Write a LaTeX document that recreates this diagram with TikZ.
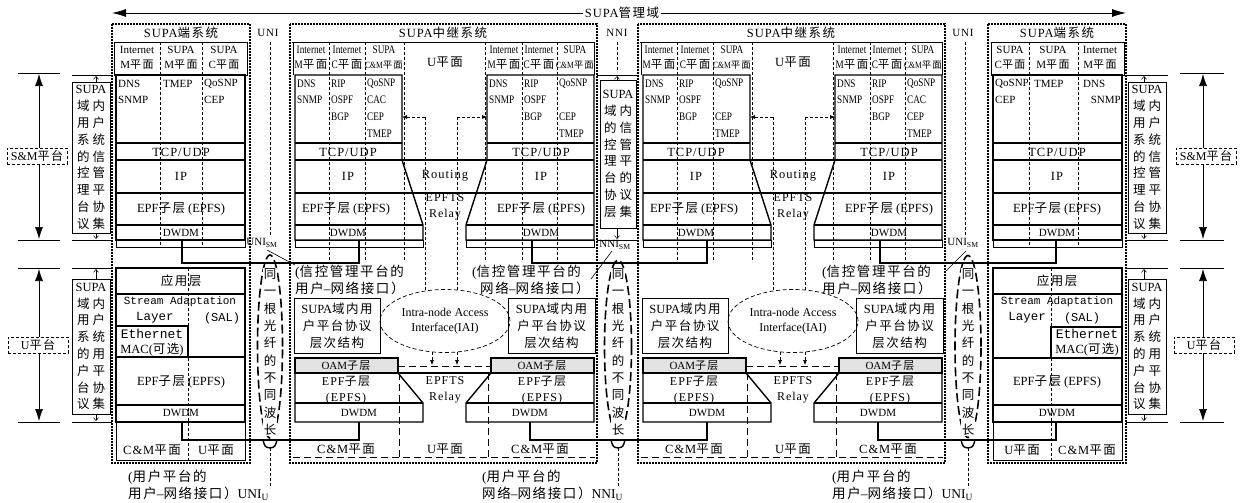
\documentclass[tikz,border=0pt]{standalone}
\usepackage{fontspec}
\setmainfont{Liberation Serif}
\setmonofont{Liberation Mono}
\newfontfamily\cjkfont[LetterSpace=12]{Noto Sans CJK SC}
\newfontfamily\condfont[FakeStretch=0.8]{Liberation Serif}
\usetikzlibrary{arrows.meta,shapes.geometric}
\newcount\cjkcnt
\newXeTeXintercharclass\CJKcls
\cjkcnt="4E00
\loop\ifnum\cjkcnt<"A000 \XeTeXcharclass\cjkcnt=\CJKcls\relax \advance\cjkcnt by 1 \repeat
\cjkcnt="3000
\loop\ifnum\cjkcnt<"3040 \XeTeXcharclass\cjkcnt=\CJKcls\relax \advance\cjkcnt by 1 \repeat
\cjkcnt="FF00
\loop\ifnum\cjkcnt<"FFF0 \XeTeXcharclass\cjkcnt=\CJKcls\relax \advance\cjkcnt by 1 \repeat
\XeTeXinterchartoks 0 \CJKcls = {\cjkfont}
\XeTeXinterchartoks 4095 \CJKcls = {\cjkfont}
\XeTeXinterchartoks \CJKcls 0 = {\rmfamily}
\XeTeXinterchartoks \CJKcls 4095 = {\rmfamily}
\XeTeXinterchartokenstate=1
\newcommand\fsz[2]{\fontsize{#1}{#2}\selectfont}
\newcommand\lsp{\addfontfeature{LetterSpace=8}}
\tikzset{
  thk/.style={line width=1.4pt},
  thn/.style={line width=0.6pt},
  dotb/.style={line width=2.2pt, dash pattern=on 1.6pt off 1.4pt},
  cold/.style={line width=0.6pt, dash pattern=on 3pt off 2pt},
  ldash/.style={line width=0.9pt, dash pattern=on 7pt off 4pt},
  conn/.style={line width=1.6pt},
  fib/.style={line width=1.6pt, dash pattern=on 9pt off 4pt},
  tiparr/.style={-{Latex[length=5pt,width=4pt]}},
  ttl/.style={inner sep=1pt, font=\fsz{12.5}{14}\lsp},
  hdr/.style={inner sep=0pt, align=center, font=\fsz{11}{15}},
  hdrs/.style={inner sep=0pt, align=center, font=\fsz{11.5}{15}\condfont},
  st/.style={inner sep=0pt, font=\fsz{11}{12}},
  sts/.style={inner sep=0pt, font=\fsz{11.5}{12}\condfont},
  lay/.style={inner sep=0pt, font=\fsz{12.5}{15}},
  layl/.style={inner sep=0pt, font=\fsz{12.5}{15}\lsp},
  two/.style={inner sep=0pt, align=center, font=\fsz{12}{16}\lsp},
  strm/.style={inner sep=0pt, font=\fsz{11}{13}\ttfamily},
  ann/.style={draw, line width=0.6pt, inner sep=0pt, align=center, font=\fsz{12.5}{16.8}},
  boxt/.style={draw, line width=0.6pt, inner sep=0pt, align=center, font=\fsz{12.5}{17}},
  lbl/.style={inner sep=0pt, align=left, font=\fsz{13.5}{17}},
  vtx/.style={inner sep=0pt, align=center, font=\fsz{12.5}{17.3}},
  plat/.style={draw, line width=0.7pt, dash pattern=on 3pt off 2pt, fill=white, inner sep=2.5pt, minimum width=60pt, font=\fsz{12}{14}},
  bigarr/.style={line width=0.6pt, {Latex[length=12pt,width=8pt]}-{Latex[length=12pt,width=8pt]}},
  smarr/.style={line width=0.5pt, -{Straight Barb[length=3pt,width=5pt]}},
  ifl/.style={inner sep=0pt, font=\fsz{11}{13}\lsp},
}
\begin{document}
\begin{tikzpicture}[x=1pt,y=-1pt]
\useasboundingbox (0,0) rectangle (1247,503);
% ================= top management domain arrow
\coordinate (mgL) at (112,13);
\coordinate (mgR) at (1126,13);
\draw[line width=0.8pt, {Latex[length=14pt,width=8pt]}-{Latex[length=14pt,width=8pt]}] (mgL) -- (mgR);
\node[fill=white, inner sep=2pt, font=\fsz{12.5}{14}\lsp] (mg) at (622,13) {SUPA管理域};
% ================= interface labels at top
\node[ifl] (uni1) at (268,33) {UNI};
\node[ifl] (nni1) at (617,33) {NNI};
\node[ifl] (uni2) at (963,33) {UNI};
\draw[cold] (270,42) -- (270,236);
\draw[cold] (617,42) -- (617,72);
\draw[cold] (965,42) -- (965,236);

% ================= LEFT END SYSTEM
\draw[dotb] (112,24) rectangle (250,463);
\node[ttl] (e1title) at (181,33) {SUPA端系统};
\draw[thn] (114,42) rectangle (247,75);
\foreach \x in {160,202} \draw[cold] (\x,42) -- (\x,247);
\node[hdr] (e1h1) at (137,58) {Internet\\M平面};
\node[hdr] (e1h2) at (181,58) {SUPA\\M平面};
\node[hdr] (e1h3) at (224,58) {SUPA\\C平面};
\draw[thk] (116,75) rectangle (245,240);
\draw[thk] (116,143) -- (245,143) (116,160) -- (245,160) (116,193) -- (245,193) (116,225) -- (245,225);
\node[st,anchor=west] (e1a) at (118,84) {DNS};
\node[st,anchor=west] (e1b) at (118,100) {SNMP};
\node[st,anchor=west] (e1c) at (163,84) {TMEP};
\node[st,anchor=west] (e1d) at (204,84) {QoSNP};
\node[st,anchor=west] (e1e) at (204,100) {CEP};
\node[layl] (e1tcp) at (181,152) {TCP/UDP};
\node[layl] (e1ip) at (181,176) {IP};
\node[lay] (e1epf) at (181,209) {EPF子层 (EPFS)};
\node[st] (e1dw) at (181,233) {DWDM};
\draw[thn] (116,240) rectangle (245,247);
% lower
\draw[thk] (116,268) rectangle (245,422);
\draw[thk] (116,294) -- (245,294) (116,357) -- (245,357) (116,405) -- (245,405);
\draw[thk] (116,326) rectangle (188,357);
\draw[cold] (188,268) -- (188,460);
\draw[thn] (116,422) rectangle (245,460);
\node[layl] (e1app) at (181,281) {应用层};
\node[strm] (e1sal) at (180,302) {Stream Adaptation};
\node[strm,font=\fsz{12.5}{14}\ttfamily] (e1lay) at (155,318) {Layer};
\node[strm,font=\fsz{12}{14}\ttfamily] (e1sal2) at (222,318) {(SAL)};
\node[strm,font=\fsz{13}{14}\ttfamily] (e1eth) at (152,334) {Ethernet};
\node[lay] (e1mac) at (152,350) {MAC(可选)};
\node[lay] (e1epf2) at (181,382) {EPF子层 (EPFS)};
\node[st] (e1dw2) at (181,413) {DWDM};
\node[layl] (e1cm) at (152,450) {C\&M平面};
\node[layl] (e1u) at (216,450) {U平面};

% left annotations
\draw[thn] (72,75) -- (112,75) (72,240) -- (112,240) (72,268) -- (112,268) (72,422) -- (112,422);
\node[ann, minimum width=38pt, minimum height=151pt] (annL1) at (91,157.5) {SUPA\\域\hspace{3pt}内\\用\hspace{3pt}户\\系\hspace{3pt}统\\的\hspace{3pt}信\\控\hspace{3pt}管\\理\hspace{3pt}平\\台\hspace{3pt}协\\议\hspace{3pt}集};
\node[ann, minimum width=38pt, minimum height=135pt] (annL2) at (91,346.5) {SUPA\\域\hspace{3pt}内\\用\hspace{3pt}户\\系\hspace{3pt}统\\的\hspace{3pt}用\\户\hspace{3pt}平\\台\hspace{3pt}协\\议\hspace{3pt}集};
\draw[smarr] (annL1.north -| 96,0) -- (96,76);
\draw[smarr] (annL1.south -| 96,0) -- (96,239);
\draw[smarr] (annL2.north -| 96,0) -- (96,269);
\draw[smarr] (annL2.south -| 96,0) -- (96,421);
\draw[thn] (18,73) -- (60,73) (18,240) -- (60,240) (18,268) -- (60,268) (18,422) -- (60,422);
\draw[bigarr] (39,74) -- (39,239);
\draw[bigarr] (39,269) -- (39,421);
\node[plat] (smL) at (37,156) {S\&M平台};
\node[plat] (upL) at (38,345) {U平台};

% ================= RIGHT END SYSTEM
\draw[dotb] (988,24) rectangle (1126,463);
\node[ttl] (e2title) at (1057,33) {SUPA端系统};
\draw[thn] (991,42) rectangle (1124,75);
\foreach \x in {1029,1078} \draw[cold] (\x,42) -- (\x,247);
\node[hdr] (e2h1) at (1010,58) {SUPA\\C平面};
\node[hdr] (e2h2) at (1053,58) {SUPA\\M平面};
\node[hdr] (e2h3) at (1100,58) {Internet\\M平面};
\draw[thk] (993,75) rectangle (1122,240);
\draw[thk] (993,143) -- (1122,143) (993,160) -- (1122,160) (993,193) -- (1122,193) (993,225) -- (1122,225);
\node[st,anchor=west] (e2a) at (995,84) {QoSNP};
\node[st,anchor=west] (e2b) at (995,100) {CEP};
\node[st,anchor=west] (e2c) at (1034,84) {TMEP};
\node[st,anchor=west] (e2d) at (1083,84) {DNS};
\node[st,anchor=east] (e2e) at (1121,100) {SNMP};
\node[layl] (e2tcp) at (1057,152) {TCP/UDP};
\node[layl] (e2ip) at (1057,176) {IP};
\node[lay] (e2epf) at (1057,209) {EPF子层 (EPFS)};
\node[st] (e2dw) at (1057,233) {DWDM};
\draw[thn] (993,240) rectangle (1122,247);
% lower
\draw[thk] (993,268) rectangle (1122,422);
\draw[thk] (993,294) -- (1122,294) (993,358) -- (1122,358) (993,405) -- (1122,405);
\draw[thk] (1051,327) rectangle (1122,358);
\draw[cold] (1051,268) -- (1051,460);
\draw[thn] (993,422) rectangle (1122,460);
\node[layl] (e2app) at (1057,281) {应用层};
\node[strm] (e2sal) at (1057,302) {Stream Adaptation};
\node[strm,font=\fsz{12.5}{14}\ttfamily] (e2lay) at (1027,318) {Layer};
\node[strm,font=\fsz{12}{14}\ttfamily] (e2sal2) at (1082,318) {(SAL)};
\node[strm,font=\fsz{13}{14}\ttfamily] (e2eth) at (1087,334) {Ethernet};
\node[lay] (e2mac) at (1087,350) {MAC(可选)};
\node[lay] (e2epf2) at (1057,382) {EPF子层 (EPFS)};
\node[st] (e2dw2) at (1057,413) {DWDM};
\node[layl] (e2u) at (1022,450) {U平面};
\node[layl] (e2cm) at (1087,450) {C\&M平面};

% right annotations
\draw[thn] (1126,75) -- (1168,75) (1126,240) -- (1168,240) (1126,268) -- (1168,268) (1126,422) -- (1168,422);
\node[ann, minimum width=38pt, minimum height=151pt] (annR1) at (1147,157.5) {SUPA\\域\hspace{3pt}内\\用\hspace{3pt}户\\系\hspace{3pt}统\\的\hspace{3pt}信\\控\hspace{3pt}管\\理\hspace{3pt}平\\台\hspace{3pt}协\\议\hspace{3pt}集};
\node[ann, minimum width=38pt, minimum height=135pt] (annR2) at (1147,346.5) {SUPA\\域\hspace{3pt}内\\用\hspace{3pt}户\\系\hspace{3pt}统\\的\hspace{3pt}用\\户\hspace{3pt}平\\台\hspace{3pt}协\\议\hspace{3pt}集};
\draw[smarr] (annR1.north -| 1144,0) -- (1144,76);
\draw[smarr] (annR1.south -| 1144,0) -- (1144,239);
\draw[smarr] (annR2.north -| 1144,0) -- (1144,269);
\draw[smarr] (annR2.south -| 1144,0) -- (1144,421);
\draw[thn] (1180,73) -- (1224,73) (1180,240) -- (1224,240) (1180,268) -- (1224,268) (1180,422) -- (1224,422);
\draw[bigarr] (1203,74) -- (1203,239);
\draw[bigarr] (1203,269) -- (1203,421);
\node[plat] (smR) at (1206,156) {S\&M平台};
\node[plat] (upR) at (1204,345) {U平台};

% ================= RELAY SYSTEMS (common geometry)
\foreach \dx/\pf in {0/r1,348/r2}{
\begin{scope}[xshift=\dx pt, name prefix=\pf-]
 \draw[dotb] (290,24) rectangle (597,463);
 \node[ttl] (title) at (443,33) {SUPA中继系统};
 \draw[thn] (292,42) -- (595,42);
 \draw[thn] (293,42) -- (293,75) (594,42) -- (594,75);
 \foreach \x in {329,365,404,485,522,557} \draw[cold] (\x,42) -- (\x,262);
 \node[hdrs] (hl1) at (311,58) {Internet\\M平面};
 \node[hdrs] (hl2) at (347,58) {Internet\\C平面};
 \node[hdrs] (hl3) at (384,58) {SUPA\\{\fsz{9.5}{15}C\&M平面}};
 \node[hdrs] (hr1) at (504,58) {Internet\\M平面};
 \node[hdrs] (hr2) at (539,58) {Internet\\C平面};
 \node[hdrs] (hr3) at (575,58) {SUPA\\{\fsz{9.5}{15}C\&M平面}};
 \node[layl] (uplane) at (445,62) {U平面};
 % upper stacks
 \draw[thk] (295,75) -- (402,75) -- (402,160) -- (423,225) -- (423,240) -- (295,240) -- cycle;
 \draw[thk] (594,75) -- (487,75) -- (487,160) -- (466,225) -- (466,240) -- (594,240) -- cycle;
 \draw[thk] (295,143) -- (402,143) (487,143) -- (594,143) (295,160) -- (594,160) (295,193) -- (594,193) (295,225) -- (423,225) (466,225) -- (594,225);
 \draw[thn] (295,240) rectangle (423,247) (466,240) rectangle (594,247);
 \node[sts,anchor=west] (l1a) at (297,84) {DNS};
 \node[sts,anchor=west] (l1b) at (297,100) {SNMP};
 \node[sts,anchor=west] (l2a) at (331,84) {RIP};
 \node[sts,anchor=west] (l2b) at (331,100) {OSPF};
 \node[sts,anchor=west] (l2c) at (331,117) {BGP};
 \node[sts,anchor=west] (l3a) at (367,84) {QoSNP};
 \node[sts,anchor=west] (l3c) at (367,117) {CEP};
 \node[sts,anchor=west] (l3d) at (367,134) {TMEP};
 \node[sts,anchor=west] (r1a) at (489,84) {DNS};
 \node[sts,anchor=west] (r1b) at (489,100) {SNMP};
 \node[sts,anchor=west] (r2a) at (524,84) {RIP};
 \node[sts,anchor=west] (r2b) at (524,100) {OSPF};
 \node[sts,anchor=west] (r2c) at (524,117) {BGP};
 \node[sts,anchor=west] (r3a) at (559,84) {QoSNP};
 \node[sts,anchor=west] (r3c) at (559,117) {CEP};
 \node[sts,anchor=west] (r3d) at (559,134) {TMEP};
 \node[layl] (tcpL) at (348,152) {TCP/UDP};
 \node[layl] (tcpR) at (541,152) {TCP/UDP};
 \node[layl] (ipL) at (348,176) {IP};
 \node[layl] (ipR) at (541,176) {IP};
 \node[layl] (rout) at (445,176) {Routing};
 \node[lay] (epfL) at (346,209) {EPF子层 (EPFS)};
 \node[lay] (epfR) at (541,209) {EPF子层 (EPFS)};
 \node[two] (rly) at (445,207) {EPFTS\\Relay};
 \node[st] (dwL) at (348,233) {DWDM};
 \node[st] (dwR) at (541,233) {DWDM};
 % lower part
 \node[boxt, minimum width=86pt, minimum height=55pt] (sl) at (337,325.5) {SUPA域内用\\户平台协议\\层次结构};
 \node[boxt, minimum width=87pt, minimum height=55pt] (sr) at (551.5,325.5) {SUPA域内用\\户平台协议\\层次结构};
 \node[draw, line width=0.7pt, dash pattern=on 4pt off 2.5pt, ellipse, minimum width=130pt, minimum height=63pt, inner sep=0pt, align=center, font=\fsz{12}{15}] (iai) at (445,321) {Intra-node Access\\Interface(IAI)};
 \coordinate (aL) at (425,117);
 \coordinate (aR) at (457,117);
 \draw[cold,tiparr] (aL) -- (402,117);
 \draw[cold,tiparr] (aR) -- (487,117);
 \draw[cold] (aL) -- (425,291);
 \draw[cold] (aR) -- (457,290);
 \draw[thk, fill=gray!22] (295,358) rectangle (398,373);
 \draw[thk, fill=gray!22] (491,358) rectangle (594,373);
 \node[st] (oamL) at (346,365.5) {OAM子层};
 \node[st] (oamR) at (542,365.5) {OAM子层};
 \draw[thk] (295,373) -- (594,373);
 \draw[thk] (398,373) -- (423,403) -- (423,422) -- (295,422) -- (295,373);
 \draw[thk] (295,403) -- (423,403);
 \draw[thk] (491,373) -- (466,403) -- (466,422) -- (594,422) -- (594,373);
 \draw[thk] (466,403) -- (594,403);
 \node[two] (epfl2) at (346,390) {EPF子层\\(EPFS)};
 \node[two] (epfr2) at (542,390) {EPF子层\\(EPFS)};
 \node[two] (rly2) at (445,390) {EPFTS\\Relay};
 \node[st] (dwl2) at (359,413) {DWDM};
 \node[st] (dwr2) at (530,413) {DWDM};
 \draw[ldash] (398,366) -- (491,366);
 \draw[cold,tiparr] (iai.south -| 432,0) ++(0,-1) -- (432,365);
 \draw[cold,tiparr] (iai.south -| 457,0) ++(0,-1) -- (457,365);
 \draw[ldash] (293,457) -- (595,457);
 \draw[ldash] (399,373) -- (399,457) (488,373) -- (488,457);
 \node[layl] (cmL) at (346,449) {C\&M平面};
 \node[layl] (uL) at (445,449) {U平面};
 \node[layl] (cmR) at (540,449) {C\&M平面};
\end{scope}
}
% relay-specific texts
\node[sts,anchor=west] (r1cac) at (367,100) {CAC};
\node[sts,anchor=west] (r2cac) at (907,100) {CAC};
\node[lbl, anchor=north west] (lab1) at (295,265) {(信控管理平台的\\用户--网络接口）};
\node[lbl, anchor=north west] (lab2) at (472,265) {(信控管理平台的\\\hspace{8pt}网络--网络接口）};
\node[lbl, anchor=north west] (lab3) at (822,265) {(信控管理平台的\\用户--网络接口）};

% ================= NNI annotation
\draw[thn] (597,75) -- (638,75) (597,240) -- (638,240);
\node[ann, minimum width=36pt, minimum height=148pt] (annN) at (618,154) {SUPA\\域\hspace{3pt}内\\的\hspace{3pt}信\\控\hspace{3pt}管\\理\hspace{3pt}平\\台\hspace{3pt}的\\协\hspace{3pt}议\\层\hspace{3pt}集};
\draw[smarr] (annN.north -| 617,0) -- (617,76);
\draw[smarr] (annN.south -| 617,0) -- (617,239);

% ================= SM interface labels
\node[inner sep=0pt, font=\fsz{11}{13}] (usm1) at (262,243) {UNI\textsubscript{SM}};
\node[inner sep=0pt, font=\fsz{11}{13}] (nsm) at (615,245) {NNI\textsubscript{SM}};
\node[inner sep=0pt, font=\fsz{11}{13}] (usm2) at (963,243) {UNI\textsubscript{SM}};
\draw[thn] (267,250) -- (lab1.north west);
\draw[thn] (612,251) -- (591,279);
\draw[thn] (966,251) -- (946,271);

% ================= physical connectors
\coordinate (c1a) at (182,240); \coordinate (c1b) at (359,240);
\coordinate (c2a) at (532,240); \coordinate (c2b) at (707,240);
\coordinate (c3a) at (880,240); \coordinate (c3b) at (1056,240);
\draw[conn] (c1a) -- (182,263) -- (359,263) -- (c1b);
\draw[conn] (c2a) -- (532,263) -- (707,263) -- (c2b);
\draw[conn] (c3a) -- (880,263) -- (1056,263) -- (c3b);
\coordinate (d1a) at (182,422); \coordinate (d1b) at (359,422);
\coordinate (d2a) at (530,422); \coordinate (d2b) at (707,422);
\coordinate (d3a) at (878,422); \coordinate (d3b) at (1056,422);
\draw[conn] (d1a) -- (182,440) -- (359,440) -- (d1b);
\draw[conn] (d2a) -- (530,440) -- (707,440) -- (d2b);
\draw[conn] (d3a) -- (878,440) -- (1056,440) -- (d3b);

% ================= fibre ellipses
\foreach \cx/\cy/\w/\h/\nm in {270/346.5/25/183/f1, 618/347/27/174/f2, 968/346.5/26/182/f3}{
  \node[draw, fib, ellipse, minimum width=\w pt, minimum height=\h pt, inner sep=0pt] (\nm) at (\cx,\cy) {};
  \node[vtx, fill=white, inner sep=0.5pt] (\nm t) at (\cx,352) {同\\一\\根\\光\\纤\\的\\不\\同\\波\\长};
  \draw[thk] (\cx-7,440) .. controls (\cx-5,447) .. (\cx,448) .. controls (\cx+5,447) .. (\cx+7,440);
  \draw[cold] (\cx,448) -- (\cx,488);
}

% ================= bottom labels
\node[lbl, anchor=north west] (bl1) at (128,470) {(用户平台的\\用户--网络接口）UNI\textsubscript{U}};
\node[lbl, anchor=north west] (bl2) at (482,470) {(用户平台的\\网络--网络接口）NNI\textsubscript{U}};
\node[lbl, anchor=north west] (bl3) at (832,470) {(用户平台的\\用户--网络接口）UNI\textsubscript{U}};
\end{tikzpicture}
\end{document}
